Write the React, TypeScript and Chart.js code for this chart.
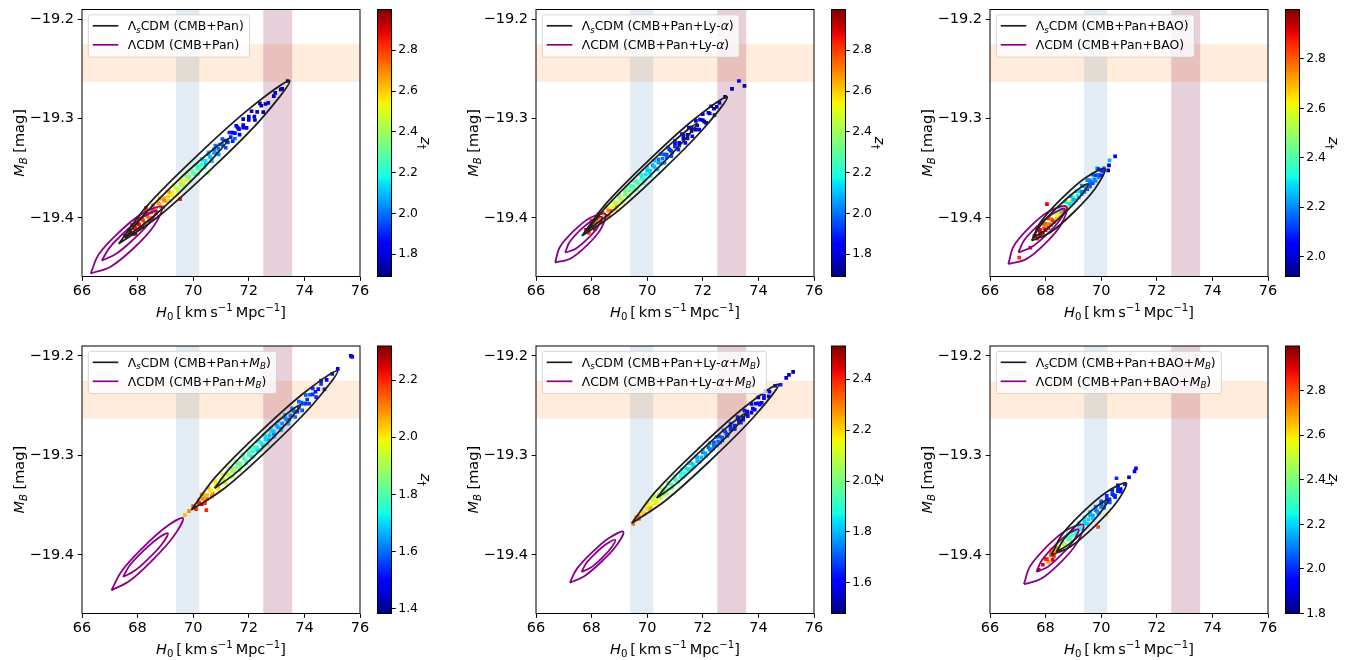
import React, { useEffect, useRef } from 'react';
import { Chart, registerables } from 'chart.js';
Chart.register(...registerables);

const FONT = "'DejaVu Sans', sans-serif";

// ---------- axes ----------
const xMin = 66, xMax = 76;
const yMin = -19.459, yMax = -19.19;
const xTicks = [66, 68, 70, 72, 74, 76];
const yTicks = [-19.4, -19.3, -19.2];

// ---------- reference bands ----------
const trgbBand = [69.38, 70.22];
const shoesBand = [72.52, 73.56];
const mbBand = [-19.263, -19.225];

// ---------- colour bars ----------
const cbRanges = [[1.69, 3.0], [1.69, 3.0], [1.92, 3.0], [1.384, 2.319], [1.48, 2.53], [1.8, 3.0]];
const cbTicks = [
  [1.8, 2.0, 2.2, 2.4, 2.6, 2.8],
  [1.8, 2.0, 2.2, 2.4, 2.6, 2.8],
  [2.0, 2.2, 2.4, 2.6, 2.8],
  [1.4, 1.6, 1.8, 2.0, 2.2],
  [1.6, 1.8, 2.0, 2.2, 2.4],
  [1.8, 2.0, 2.2, 2.4, 2.6, 2.8],
];
const cbLabel = '{z}_{\u2020}';

// ---------- legend labels ----------
const lsLabels = [
  '\u039b_[s]CDM (CMB+Pan)',
  '\u039b_[s]CDM (CMB+Pan+Ly-{\u03b1})',
  '\u039b_[s]CDM (CMB+Pan+BAO)',
  '\u039b_[s]CDM (CMB+Pan+{M}_[B])',
  '\u039b_[s]CDM (CMB+Pan+Ly-{\u03b1}+{M}_[B])',
  '\u039b_[s]CDM (CMB+Pan+BAO+{M}_[B])',
];
const lLabels = [
  '\u039bCDM (CMB+Pan)',
  '\u039bCDM (CMB+Pan+Ly-{\u03b1})',
  '\u039bCDM (CMB+Pan+BAO)',
  '\u039bCDM (CMB+Pan+{M}_[B])',
  '\u039bCDM (CMB+Pan+Ly-{\u03b1}+{M}_[B])',
  '\u039bCDM (CMB+Pan+BAO+{M}_[B])',
];
const xTitle = '{H}_{0}\u2009[\u2009km\u2009s^{\u22121}\u2009Mpc^{\u22121}]';
const yTitle = '{M}_[B] [mag]';

// ---------- contours [H0, MB] ----------
const p1LsOuter = [[67.32,-19.426],[68.354,-19.3874],[70.15,-19.337],[72.044,-19.2894],[73.47,-19.262],[72.436,-19.3006],[70.64,-19.351],[68.746,-19.3986],[67.32,-19.426]];
const p1LsInner = [[67.55,-19.42],[68.209,-19.3974],[69.3045,-19.3661],[70.439,-19.3374],[71.28,-19.32],[70.621,-19.3426],[69.5255,-19.3739],[68.391,-19.4026],[67.55,-19.42]];
const p1LOuter = [[66.31,-19.456],[66.61,-19.4364],[67.335,-19.4143],[68.15,-19.3959],[68.87,-19.389],[68.57,-19.4086],[67.845,-19.4308],[67.03,-19.4491],[66.31,-19.456]];
const p1LInner = [[66.71,-19.443],[66.999,-19.4296],[67.56,-19.4137],[68.184,-19.3994],[68.69,-19.3926],[68.401,-19.4059],[67.84,-19.4219],[67.216,-19.4364],[66.71,-19.443]];

const p2LsOuter = [[67.65,-19.418],[68.533,-19.3851],[70.062,-19.3418],[71.668,-19.3011],[72.88,-19.278],[71.997,-19.3109],[70.468,-19.3542],[68.862,-19.3949],[67.65,-19.418]];
const p2LsInner = [[67.83,-19.413],[68.529,-19.3887],[69.693,-19.3556],[70.909,-19.3239],[71.79,-19.305],[71.091,-19.3293],[69.927,-19.3624],[68.711,-19.3941],[67.83,-19.413]];
const p2LOuter = [[66.69,-19.445],[66.855,-19.4295],[67.35,-19.4133],[67.935,-19.4001],[68.49,-19.396],[68.325,-19.4115],[67.83,-19.4277],[67.245,-19.4409],[66.69,-19.445]];
const p2LInner = [[67.05,-19.435],[67.203,-19.4246],[67.57,-19.4128],[67.995,-19.403],[68.37,-19.399],[68.217,-19.4094],[67.85,-19.4212],[67.425,-19.4311],[67.05,-19.435]];

const p3LsOuter = [[67.50,-19.423],[67.849,-19.4032],[68.59,-19.3801],[69.425,-19.3597],[70.13,-19.3505],[69.783,-19.3703],[69.04,-19.3935],[68.205,-19.4138],[67.50,-19.423]];
const p3LsInner = [[67.55,-19.4196],[67.856,-19.4061],[68.4275,-19.3892],[69.044,-19.3738],[69.53,-19.3657],[69.224,-19.3792],[68.6525,-19.396],[68.036,-19.4115],[67.55,-19.4196]];
const p3LOuter = [[66.66,-19.4465],[66.856,-19.4283],[67.4275,-19.4093],[68.11,-19.3936],[68.75,-19.3886],[68.554,-19.4068],[67.9825,-19.4258],[67.30,-19.4415],[66.66,-19.4465]];
const p3LInner = [[67.02,-19.4348],[67.229,-19.4224],[67.70,-19.4083],[68.231,-19.3962],[68.69,-19.391],[68.481,-19.4034],[68.01,-19.4175],[67.479,-19.4296],[67.02,-19.4348]];

const p4LsOuter = [[69.93,-19.355],[70.803,-19.3217],[72.336,-19.2783],[73.959,-19.2377],[75.19,-19.215],[74.317,-19.2483],[72.784,-19.2917],[71.161,-19.3323],[69.93,-19.355]];
const p4LsInner = [[70.77,-19.333],[71.299,-19.3135],[72.2075,-19.2875],[73.159,-19.2629],[73.87,-19.2488],[73.341,-19.2683],[72.4325,-19.2943],[71.481,-19.3189],[70.77,-19.333]];
const p4LOuter = [[67.06,-19.4357],[67.419,-19.4167],[68.153,-19.3938],[68.961,-19.3732],[69.63,-19.3632],[69.271,-19.3823],[68.537,-19.4052],[67.729,-19.4258],[67.06,-19.4357]];
const p4LInner = [[67.48,-19.4222],[67.712,-19.4107],[68.1725,-19.3969],[68.678,-19.3845],[69.09,-19.3784],[68.858,-19.3899],[68.3975,-19.4037],[67.892,-19.4161],[67.48,-19.4222]];

const p5LsOuter = [[69.44,-19.3683],[70.329,-19.3355],[71.873,-19.2923],[73.497,-19.2516],[74.72,-19.2286],[73.831,-19.2614],[72.287,-19.3047],[70.663,-19.3453],[69.44,-19.3683]];
const p5LsInner = [[70.34,-19.343],[70.911,-19.3235],[71.864,-19.2972],[72.855,-19.2721],[73.58,-19.2572],[73.009,-19.2767],[72.056,-19.303],[71.065,-19.3281],[70.34,-19.343]];
const p5LOuter = [[67.22,-19.4279],[67.473,-19.4139],[68.017,-19.3976],[68.625,-19.3832],[69.14,-19.3768],[68.887,-19.3908],[68.343,-19.4072],[67.735,-19.4215],[67.22,-19.4279]];
const p5LInner = [[67.64,-19.4172],[67.805,-19.4085],[68.149,-19.3982],[68.531,-19.3891],[68.85,-19.385],[68.685,-19.3937],[68.341,-19.404],[67.959,-19.4131],[67.64,-19.4172]];

const p6LsOuter = [[68.21,-19.4003],[68.569,-19.3805],[69.33,-19.3574],[70.183,-19.3371],[70.90,-19.3279],[70.541,-19.3477],[69.78,-19.3708],[68.927,-19.3911],[68.21,-19.4003]];
const p6LsInner = [[68.39,-19.397],[68.670,-19.3838],[69.2025,-19.3675],[69.780,-19.3525],[70.24,-19.3447],[69.960,-19.3579],[69.4275,-19.3743],[68.850,-19.3892],[68.39,-19.397]];
const p6LOuter = [[67.22,-19.4296],[67.439,-19.4116],[68.0255,-19.3922],[68.717,-19.3757],[69.35,-19.37],[69.131,-19.388],[68.5445,-19.4075],[67.853,-19.4239],[67.22,-19.4296]];
const p6LInner = [[67.67,-19.4172],[67.863,-19.4054],[68.291,-19.3917],[68.775,-19.3797],[69.19,-19.3743],[68.997,-19.3861],[68.569,-19.3999],[68.085,-19.4119],[67.67,-19.4172]];

// ---------- MCMC samples [H0, MB, z_dagger] ----------
const p1Pts = [
  [67.55,-19.418,2.95],[67.7,-19.412,2.9],[67.8,-19.416,2.98],[67.9,-19.409,2.85],[68.0,-19.405,2.92],[68.05,-19.411,2.8],[68.15,-19.401,2.88],[68.25,-19.405,2.75],[68.35,-19.396,2.82],[68.45,-19.400,2.7],
  [68.55,-19.391,2.78],[68.65,-19.394,2.72],[68.75,-19.385,2.68],[68.85,-19.389,2.75],[68.95,-19.380,2.65],[69.05,-19.383,2.6],[69.15,-19.374,2.7],[69.25,-19.377,2.55],[69.35,-19.369,2.5],[69.45,-19.372,2.45],
  [69.55,-19.363,2.55],[69.65,-19.367,2.4],[69.75,-19.358,2.35],[69.85,-19.361,2.45],[69.95,-19.352,2.3],[70.05,-19.356,2.25],[70.15,-19.347,2.2],[70.25,-19.351,2.3],[70.35,-19.342,2.15],[70.45,-19.346,2.1],
  [70.55,-19.336,2.05],[70.65,-19.340,2.2],[70.75,-19.331,2.0],[70.85,-19.335,1.95],[70.95,-19.326,2.05],[71.1,-19.322,1.9],[71.25,-19.324,1.95],[71.4,-19.314,1.85],[71.6,-19.309,1.8],[71.8,-19.309,1.85],
  [72.0,-19.298,1.78],[72.2,-19.298,1.8],[72.45,-19.287,1.75],[72.7,-19.284,1.8],[72.95,-19.274,1.75],[73.2,-19.270,1.78],[73.4,-19.262,1.72],
  [68.3,-19.390,2.9],[69.53,-19.381,2.85],[70.53,-19.355,2.4],[71.5,-19.320,2.0],
  [67.6,-19.4185,2.9],[67.75,-19.4145,2.95],[67.9,-19.4105,2.85],[68.05,-19.4065,2.9],[68.2,-19.4025,2.8],[68.35,-19.3985,2.75],[68.5,-19.3945,2.8],[68.65,-19.3905,2.7],[68.8,-19.3865,2.65],[68.95,-19.3825,2.7],
  [69.1,-19.3785,2.6],[69.25,-19.3745,2.5],[69.4,-19.3705,2.45],[69.55,-19.3665,2.4],[69.7,-19.3625,2.5],[69.85,-19.3585,2.35],[70.0,-19.3545,2.3],[70.15,-19.3505,2.25],[70.3,-19.3465,2.2],[70.45,-19.3425,2.15],
  [70.6,-19.3385,2.1],[70.75,-19.3345,2.05],[70.9,-19.3305,2.0],[71.05,-19.3265,1.95],[71.2,-19.3225,1.9],[71.35,-19.3185,1.9],[71.5,-19.3145,1.85],[71.65,-19.3105,1.82],[71.8,-19.3065,1.8],[72.0,-19.3012,1.8],
  [72.3,-19.2932,1.78],[72.6,-19.2852,1.75],[72.9,-19.2772,1.75],[73.15,-19.2705,1.72],
];
const p1Extra = [
  [67.8,-19.4072,2.9],[68.05,-19.4005,2.85],[68.3,-19.3939,2.8],[68.55,-19.3872,2.75],[68.8,-19.3805,2.7],[69.05,-19.3739,2.6],[69.3,-19.3672,2.5],[69.55,-19.3605,2.45],[69.8,-19.3539,2.35],[70.05,-19.3472,2.3],
  [70.3,-19.3405,2.2],[70.55,-19.3339,2.1],[70.8,-19.3272,2.0],[71.05,-19.3205,1.95],[71.3,-19.3139,1.9],[71.55,-19.3072,1.85],[71.8,-19.3005,1.8],[72.1,-19.2925,1.78],[72.4,-19.2846,1.75],
  [67.92,-19.416,2.95],[68.17,-19.4093,2.9],[68.42,-19.4027,2.85],[68.67,-19.396,2.7],[68.92,-19.3893,2.75],[69.17,-19.3827,2.6],[69.42,-19.376,2.55],[69.67,-19.3693,2.45],[69.92,-19.3627,2.4],[70.17,-19.356,2.25],
  [70.42,-19.3493,2.2],[70.67,-19.3427,2.1],[70.92,-19.336,2.05],[71.17,-19.3293,1.95],[71.42,-19.3227,1.9],[71.67,-19.316,1.85],[71.92,-19.3093,1.82],[72.22,-19.3013,1.8],[72.52,-19.2934,1.76],
];
const p2Pts = [
  [67.8,-19.412,2.9],[67.9,-19.415,2.8],[68.0,-19.406,2.95],[68.1,-19.409,2.7],[68.2,-19.401,2.85],[68.3,-19.404,2.6],[68.4,-19.395,2.75],[68.5,-19.398,2.9],[68.6,-19.390,2.5],[68.7,-19.393,2.8],
  [68.8,-19.384,2.4],[68.9,-19.388,2.65],[69.0,-19.379,2.35],[69.1,-19.382,2.5],[69.2,-19.373,2.3],[69.3,-19.377,2.4],[69.4,-19.368,2.25],[69.5,-19.372,2.35],[69.6,-19.363,2.2],[69.7,-19.366,2.3],
  [69.8,-19.357,2.15],[69.9,-19.361,2.2],[70.0,-19.352,2.1],[70.1,-19.355,2.15],[70.2,-19.347,2.05],[70.3,-19.350,2.1],[70.4,-19.341,2.0],[70.5,-19.345,2.05],[70.6,-19.336,1.95],[70.7,-19.339,2.0],
  [70.8,-19.331,1.9],[70.9,-19.334,1.95],[71.0,-19.325,1.85],[71.15,-19.327,1.9],[71.3,-19.317,1.85],[71.45,-19.320,1.8],[71.6,-19.309,1.85],[71.75,-19.311,1.78],[71.9,-19.301,1.8],[72.05,-19.303,1.75],
  [72.2,-19.294,1.8],[72.4,-19.290,1.75],[72.6,-19.284,1.78],[72.8,-19.278,1.72],[73.05,-19.270,1.75],[73.3,-19.262,1.8],[73.5,-19.267,1.72],
  [67.85,-19.4126,2.85],[68.0,-19.4086,2.8],[68.15,-19.4046,2.75],[68.3,-19.4006,2.7],[68.45,-19.3966,2.6],[68.6,-19.3926,2.7],[68.75,-19.3886,2.5],[68.9,-19.3845,2.45],[69.05,-19.3805,2.4],[69.2,-19.3765,2.35],
  [69.35,-19.3725,2.3],[69.5,-19.3685,2.25],[69.65,-19.3645,2.25],[69.8,-19.3604,2.2],[69.95,-19.3564,2.15],[70.1,-19.3524,2.1],[70.25,-19.3484,2.1],[70.4,-19.3444,2.05],[70.55,-19.3404,2.0],[70.7,-19.3363,1.95],
  [70.85,-19.3323,1.9],[71.0,-19.3283,1.9],[71.15,-19.3243,1.85],[71.3,-19.3203,1.85],[71.45,-19.3163,1.8],[71.6,-19.3123,1.8],[71.8,-19.3069,1.78],[72.0,-19.3015,1.78],[72.25,-19.2948,1.75],[72.5,-19.2881,1.75],
];
const p2Extra = [
  [68.0,-19.4026,2.85],[68.25,-19.3959,2.7],[68.5,-19.3892,2.6],[68.75,-19.3826,2.5],[69.0,-19.3759,2.4],[69.25,-19.3692,2.35],[69.5,-19.3625,2.3],[69.75,-19.3558,2.2],[70.0,-19.3491,2.15],[70.25,-19.3424,2.1],
  [70.5,-19.3357,2.0],[70.75,-19.329,1.95],[71.0,-19.3223,1.9],[71.25,-19.3156,1.85],[71.5,-19.3089,1.82],[71.75,-19.3022,1.8],[72.0,-19.2955,1.78],[72.3,-19.2875,1.75],
  [68.12,-19.4114,2.9],[68.37,-19.4047,2.8],[68.62,-19.398,2.75],[68.87,-19.3914,2.6],[69.12,-19.3847,2.5],[69.37,-19.378,2.4],[69.62,-19.3713,2.3],[69.87,-19.3646,2.25],[70.12,-19.3579,2.2],[70.37,-19.3512,2.1],
  [70.62,-19.3445,2.05],[70.87,-19.3378,1.95],[71.12,-19.3311,1.9],[71.37,-19.3244,1.85],[71.62,-19.3177,1.82],[71.87,-19.311,1.8],[72.12,-19.3043,1.78],[72.42,-19.2963,1.75],
];
const p3Pts = [
  [67.6,-19.418,2.95],[67.7,-19.421,2.85],[67.8,-19.412,2.9],[67.9,-19.415,2.98],[68.0,-19.406,2.8],[68.1,-19.410,2.9],[68.2,-19.401,2.7],[68.3,-19.404,2.85],[68.4,-19.395,2.3],[68.5,-19.399,2.75],
  [68.6,-19.390,2.4],[68.7,-19.393,2.2],[68.8,-19.384,2.6],[68.9,-19.387,2.3],[69.0,-19.379,2.4],[69.1,-19.382,2.25],[69.2,-19.373,2.3],[69.3,-19.376,2.2],[69.4,-19.368,2.25],[69.5,-19.371,2.15],
  [69.6,-19.362,2.2],[69.7,-19.365,2.15],[69.8,-19.357,2.1],[69.9,-19.359,2.2],[70.0,-19.352,2.1],[70.1,-19.350,2.15],
  [68.15,-19.406,2.4],[68.45,-19.396,2.6],[68.65,-19.393,2.85],[68.95,-19.383,2.7],
  [70.3,-19.342,2.25],[70.5,-19.338,2.05],[70.25,-19.352,1.98],[70.28,-19.347,2.0],[69.85,-19.350,2.25],
  [68.05,-19.386,2.9],[67.05,-19.440,2.85],[67.45,-19.430,2.9],
  [67.65,-19.4189,2.9],[67.8,-19.4147,2.95],[67.95,-19.4106,2.85],[68.1,-19.4065,2.75],[68.25,-19.4023,2.85],[68.4,-19.3982,2.6],[68.55,-19.3941,2.35],[68.7,-19.3899,2.7],[68.85,-19.3858,2.3],[69.0,-19.3816,2.25],
  [69.15,-19.3775,2.35],[69.3,-19.3734,2.2],[69.45,-19.3692,2.25],[69.6,-19.3651,2.15],[69.75,-19.3610,2.2],[69.9,-19.3568,2.15],[70.05,-19.3527,2.1],
];
const p3Extra = [
  [67.7,-19.4115,2.9],[67.9,-19.406,2.8],[68.1,-19.4005,2.85],[68.3,-19.395,2.6],[68.5,-19.3894,2.4],[68.7,-19.3839,2.3],[68.9,-19.3784,2.25],[69.1,-19.3729,2.3],[69.3,-19.3674,2.2],[69.5,-19.3619,2.2],
  [69.7,-19.3563,2.15],[69.9,-19.3508,2.1],
  [67.8,-19.4179,2.95],[68.0,-19.4124,2.9],[68.2,-19.4069,2.8],[68.4,-19.4014,2.7],[68.6,-19.3959,2.75],[68.8,-19.3903,2.5],[69.0,-19.3848,2.3],[69.2,-19.3793,2.25],
  [69.4,-19.3738,2.2],[69.6,-19.3683,2.15],[69.8,-19.3628,2.2],[70.0,-19.3572,2.1],
];
const p4Pts = [
  [69.7,-19.360,2.05],[69.85,-19.356,2.1],[70.0,-19.351,2.15],[70.1,-19.354,2.2],[70.2,-19.345,2.1],[70.3,-19.349,2.25],[70.4,-19.340,2.05],[70.5,-19.344,2.15],[70.6,-19.335,2.0],[70.7,-19.338,2.1],
  [70.8,-19.329,1.95],[70.9,-19.333,2.05],[71.0,-19.324,1.95],[71.1,-19.327,2.0],[71.2,-19.318,1.9],[71.3,-19.322,1.95],[71.4,-19.313,1.85],[71.5,-19.316,1.9],[71.6,-19.308,1.8],[71.7,-19.311,1.85],
  [71.8,-19.302,1.8],[71.9,-19.306,1.75],[72.0,-19.297,1.8],[72.1,-19.301,1.7],[72.2,-19.292,1.75],[72.3,-19.295,1.7],[72.4,-19.286,1.75],[72.5,-19.290,1.68],[72.6,-19.281,1.7],[72.7,-19.284,1.65],
  [72.8,-19.276,1.7],[72.9,-19.279,1.62],[73.0,-19.270,1.65],[73.15,-19.273,1.6],[73.3,-19.262,1.62],[73.45,-19.264,1.58],[73.6,-19.255,1.6],[73.75,-19.256,1.55],[73.9,-19.247,1.6],[74.05,-19.248,1.55],
  [74.2,-19.239,1.58],[74.4,-19.236,1.52],[74.6,-19.228,1.55],[74.8,-19.224,1.5],[75.0,-19.218,1.52],[75.2,-19.213,1.48],[75.67,-19.200,1.45],[75.72,-19.201,1.5],[70.47,-19.355,2.2],
  [70.05,-19.3518,2.15],[70.2,-19.3478,2.2],[70.35,-19.3438,2.1],[70.5,-19.3398,2.05],[70.65,-19.3358,2.0],[70.8,-19.3318,2.0],[70.95,-19.3278,1.95],[71.1,-19.3239,1.9],[71.25,-19.3199,1.92],[71.4,-19.3159,1.88],
  [71.55,-19.3119,1.85],[71.7,-19.3079,1.82],[71.85,-19.3039,1.8],[72.0,-19.2999,1.78],[72.15,-19.2959,1.75],[72.3,-19.2919,1.75],[72.45,-19.2879,1.72],[72.6,-19.2839,1.7],[72.75,-19.2799,1.68],[72.9,-19.2759,1.68],
  [73.05,-19.2719,1.65],[73.2,-19.2680,1.63],[73.35,-19.2640,1.62],[73.5,-19.2600,1.6],[73.65,-19.2560,1.6],[73.8,-19.2520,1.58],[73.95,-19.2480,1.57],[74.1,-19.2440,1.55],[74.3,-19.2387,1.55],[74.5,-19.2333,1.52],
];
const p4Extra = [
  [70.3,-19.3392,2.1],[70.55,-19.3325,2.05],[70.8,-19.3258,2.0],[71.05,-19.3192,1.95],[71.3,-19.3125,1.9],[71.55,-19.3059,1.85],[71.8,-19.2992,1.8],[72.05,-19.2926,1.78],[72.3,-19.2859,1.75],[72.55,-19.2793,1.72],
  [72.8,-19.2726,1.7],[73.05,-19.2659,1.68],[73.3,-19.2593,1.65],[73.55,-19.2526,1.62],[73.8,-19.246,1.6],[74.05,-19.2393,1.58],[74.3,-19.2327,1.55],[74.6,-19.2247,1.52],
  [70.42,-19.348,2.2],[70.67,-19.3413,2.1],[70.92,-19.3346,2.0],[71.17,-19.328,1.95],[71.42,-19.3213,1.9],[71.67,-19.3147,1.85],[71.92,-19.308,1.82],[72.17,-19.3014,1.8],[72.42,-19.2947,1.75],[72.67,-19.2881,1.72],
  [72.92,-19.2814,1.7],[73.17,-19.2747,1.68],[73.42,-19.2681,1.65],[73.67,-19.2614,1.6],[73.92,-19.2548,1.58],[74.17,-19.2481,1.56],[74.42,-19.2415,1.55],[74.72,-19.2335,1.52],
];
const p5Pts = [
  [69.5,-19.369,2.3],[69.6,-19.362,2.25],[69.7,-19.364,2.35],[69.8,-19.356,2.2],[69.9,-19.359,2.3],[70.0,-19.350,2.15],[70.1,-19.354,2.25],[70.2,-19.345,2.1],[70.3,-19.348,2.2],[70.4,-19.340,2.05],
  [70.5,-19.343,2.1],[70.6,-19.334,2.0],[70.7,-19.338,2.05],[70.8,-19.329,1.95],[70.9,-19.332,2.0],[71.0,-19.324,1.9],[71.1,-19.327,1.95],[71.2,-19.318,1.88],[71.3,-19.322,1.9],[71.4,-19.313,1.85],
  [71.5,-19.316,1.88],[71.6,-19.308,1.8],[71.7,-19.311,1.85],[71.8,-19.302,1.78],[71.9,-19.306,1.82],[72.0,-19.297,1.75],[72.1,-19.300,1.8],[72.2,-19.292,1.72],[72.3,-19.295,1.78],[72.4,-19.287,1.7],
  [72.5,-19.290,1.75],[72.6,-19.281,1.68],[72.7,-19.285,1.7],[72.8,-19.276,1.65],[72.9,-19.279,1.68],[73.0,-19.271,1.65],[73.15,-19.273,1.6],[73.3,-19.264,1.62],[73.45,-19.264,1.6],[73.6,-19.256,1.62],
  [73.75,-19.257,1.58],[73.9,-19.248,1.6],[74.05,-19.249,1.6],[74.2,-19.240,1.62],[74.4,-19.236,1.58],[74.6,-19.230,1.6],[74.8,-19.229,1.65],[75.0,-19.222,1.55],[75.1,-19.219,1.55],[75.25,-19.216,1.52],
  [69.55,-19.3654,2.25],[69.7,-19.3614,2.3],[69.85,-19.3575,2.2],[70.0,-19.3535,2.2],[70.15,-19.3495,2.15],[70.3,-19.3455,2.1],[70.45,-19.3416,2.05],[70.6,-19.3376,2.0],[70.75,-19.3336,1.97],[70.9,-19.3297,1.95],
  [71.05,-19.3257,1.92],[71.2,-19.3217,1.9],[71.35,-19.3178,1.88],[71.5,-19.3138,1.85],[71.65,-19.3098,1.83],[71.8,-19.3058,1.8],[71.95,-19.3019,1.8],[72.1,-19.2979,1.78],[72.25,-19.2939,1.75],[72.4,-19.2900,1.73],
  [72.55,-19.2860,1.72],[72.7,-19.2820,1.7],[72.85,-19.2781,1.68],[73.0,-19.2741,1.66],[73.15,-19.2701,1.65],[73.3,-19.2662,1.63],[73.45,-19.2622,1.62],[73.6,-19.2582,1.62],[73.8,-19.2529,1.6],[74.0,-19.2476,1.6],
  [74.2,-19.2424,1.6],
];
const p5Extra = [
  [70.0,-19.3475,2.2],[70.25,-19.3409,2.1],[70.5,-19.3342,2.05],[70.75,-19.3276,1.98],[71.0,-19.321,1.95],[71.25,-19.3144,1.9],[71.5,-19.3078,1.85],[71.75,-19.3012,1.82],[72.0,-19.2946,1.8],[72.25,-19.2879,1.76],
  [72.5,-19.2813,1.73],[72.75,-19.2747,1.7],[73.0,-19.2681,1.68],[73.25,-19.2615,1.65],[73.5,-19.2549,1.63],[73.75,-19.2483,1.62],[74.0,-19.2416,1.6],[74.25,-19.235,1.6],
  [70.12,-19.3531,2.25],[70.37,-19.3465,2.15],[70.62,-19.3398,2.05],[70.87,-19.3332,2.0],[71.12,-19.3266,1.95],[71.37,-19.32,1.9],[71.62,-19.3134,1.86],[71.87,-19.3068,1.82],[72.12,-19.3002,1.8],[72.37,-19.2935,1.76],
  [72.62,-19.2869,1.73],[72.87,-19.2803,1.7],[73.12,-19.2737,1.68],[73.37,-19.2671,1.65],[73.62,-19.2605,1.63],[73.87,-19.2539,1.62],[74.12,-19.2472,1.6],[74.37,-19.2406,1.6],
];
const p6Pts = [
  [67.9,-19.410,2.9],[68.0,-19.404,2.85],[68.1,-19.407,2.7],[68.2,-19.398,2.8],[68.3,-19.401,2.6],[68.4,-19.393,2.75],[68.5,-19.396,2.5],[68.6,-19.387,2.35],[68.7,-19.390,2.6],[68.8,-19.382,2.3],
  [68.9,-19.385,2.4],[69.0,-19.376,2.25],[69.1,-19.379,2.35],[69.2,-19.371,2.2],[69.3,-19.374,2.3],[69.4,-19.366,2.2],[69.5,-19.369,2.25],[69.6,-19.360,2.15],[69.7,-19.363,2.2],[69.8,-19.355,2.1],
  [69.9,-19.358,2.15],[70.0,-19.349,2.05],[70.1,-19.352,2.1],[70.2,-19.344,2.0],[70.3,-19.347,2.05],[70.4,-19.339,2.0],[70.5,-19.341,1.95],[70.6,-19.333,2.0],[70.7,-19.334,1.95],[70.85,-19.329,2.0],
  [71.0,-19.322,1.9],[71.2,-19.316,1.95],[67.75,-19.415,2.95],[68.25,-19.405,2.9],[69.89,-19.372,2.8],[70.55,-19.323,2.0],[71.25,-19.313,1.95],[70.2,-19.360,2.6],
  [68.05,-19.4046,2.85],[68.2,-19.4006,2.8],[68.35,-19.3965,2.7],[68.5,-19.3925,2.55],[68.65,-19.3885,2.4],[68.8,-19.3844,2.35],[68.95,-19.3804,2.3],[69.1,-19.3763,2.25],[69.25,-19.3723,2.3],[69.4,-19.3683,2.2],
  [69.55,-19.3642,2.2],[69.7,-19.3602,2.15],[69.85,-19.3562,2.1],[70.0,-19.3521,2.1],[70.15,-19.3481,2.05],[70.3,-19.3441,2.0],[70.45,-19.3400,2.0],[70.6,-19.3360,1.98],
];
const p6Extra = [
  [68.2,-19.3946,2.7],[68.4,-19.3892,2.5],[68.6,-19.3838,2.35],[68.8,-19.3784,2.3],[69.0,-19.373,2.25],[69.2,-19.3677,2.3],[69.4,-19.3623,2.2],[69.6,-19.3569,2.15],[69.8,-19.3515,2.1],[70.0,-19.3461,2.05],
  [70.2,-19.3408,2.0],[70.4,-19.3354,2.0],[70.6,-19.33,1.95],
  [68.3,-19.4012,2.85],[68.5,-19.3958,2.75],[68.7,-19.3904,2.5],[68.9,-19.385,2.35],[69.1,-19.3797,2.3],[69.3,-19.3743,2.25],[69.5,-19.3689,2.2],[69.7,-19.3635,2.2],[69.9,-19.3581,2.15],[70.1,-19.3527,2.1],
  [70.3,-19.3474,2.05],[70.5,-19.342,2.0],[70.7,-19.3366,1.98],
];

const scatterSets = [
  [...p1Pts, ...p1Extra],
  [...p2Pts, ...p2Extra],
  [...p3Pts, ...p3Extra],
  [...p4Pts, ...p4Extra],
  [...p5Pts, ...p5Extra],
  [...p6Pts, ...p6Extra],
];
const lsOuterSets = [p1LsOuter, p2LsOuter, p3LsOuter, p4LsOuter, p5LsOuter, p6LsOuter];
const lsInnerSets = [p1LsInner, p2LsInner, p3LsInner, p4LsInner, p5LsInner, p6LsInner];
const lOuterSets = [p1LOuter, p2LOuter, p3LOuter, p4LOuter, p5LOuter, p6LOuter];
const lInnerSets = [p1LInner, p2LInner, p3LInner, p4LInner, p5LInner, p6LInner];

// ---------- styles & layout ----------
const BLACK = '#202020';
const PURPLE = '#8b008b';
const ORANGE_BAND = 'rgba(255,127,14,0.15)';
const BLUE_BAND = 'rgba(70,130,180,0.15)';
const RED_BAND = 'rgba(140,20,70,0.2)';
const PLOT_W = 278;
const TICK_SIZE = 14.5;
const SMALL_SIZE = 12.4;
const panelLeft = [82, 536, 990, 82, 536, 990];
const rows = [
  { top: 1, padTop: 8.5, plotH: 267 },
  { top: 338, padTop: 8, plotH: 267.5 },
];
const X_AXIS_H = 50.5;
const RIGHT_PAD = 12;

function jet(t: number): string {
  const c = Math.max(0, Math.min(1, t));
  const lerp = (pts: number[][]) => {
    for (let i = 1; i < pts.length; i++) {
      if (c <= pts[i][0]) {
        const [x0, y0] = pts[i - 1];
        const [x1, y1] = pts[i];
        return y0 + ((y1 - y0) * (c - x0)) / (x1 - x0);
      }
    }
    return pts[pts.length - 1][1];
  };
  const r = lerp([[0, 0], [0.35, 0], [0.66, 1], [0.89, 1], [1, 0.5]]);
  const g = lerp([[0, 0], [0.125, 0], [0.375, 1], [0.64, 1], [0.91, 0], [1, 0]]);
  const b = lerp([[0, 0.5], [0.11, 1], [0.34, 1], [0.65, 0], [1, 0]]);
  return `rgb(${Math.round(r * 255)},${Math.round(g * 255)},${Math.round(b * 255)})`;
}

type Seg = { t: string; it?: boolean; sub?: boolean; sup?: boolean };
function parseRich(s: string): Seg[] {
  const out: Seg[] = [];
  let i = 0;
  let buf = '';
  const flush = () => { if (buf) { out.push({ t: buf }); buf = ''; } };
  while (i < s.length) {
    const ch = s[i];
    if (ch === '_' && s[i + 1] === '{') {
      flush(); const j = s.indexOf('}', i); out.push({ t: s.slice(i + 2, j), sub: true }); i = j + 1;
    } else if (ch === '_' && s[i + 1] === '[') {
      flush(); const j = s.indexOf(']', i); out.push({ t: s.slice(i + 2, j), sub: true, it: true }); i = j + 1;
    } else if (ch === '^' && s[i + 1] === '{') {
      flush(); const j = s.indexOf('}', i); out.push({ t: s.slice(i + 2, j), sup: true }); i = j + 1;
    } else if (ch === '{') {
      flush(); const j = s.indexOf('}', i); out.push({ t: s.slice(i + 1, j), it: true }); i = j + 1;
    } else { buf += ch; i++; }
  }
  flush();
  return out;
}
function segFont(g: Seg, size: number) {
  const s = g.sub || g.sup ? size * 0.7 : size;
  return `${g.it ? 'italic ' : ''}${s}px ${FONT}`;
}
function measureRich(ctx: CanvasRenderingContext2D, segs: Seg[], size: number) {
  let w = 0;
  for (const g of segs) { ctx.font = segFont(g, size); w += ctx.measureText(g.t).width; }
  return w;
}
function drawRich(ctx: CanvasRenderingContext2D, segs: Seg[], x: number, y: number, size: number, align: string) {
  const w = measureRich(ctx, segs, size);
  let cx = align === 'center' ? x - w / 2 : x;
  ctx.textAlign = 'left';
  ctx.textBaseline = 'alphabetic';
  ctx.fillStyle = '#000';
  for (const g of segs) {
    ctx.font = segFont(g, size);
    const dy = g.sub ? size * 0.22 : g.sup ? -size * 0.4 : 0;
    ctx.fillText(g.t, cx, y + dy);
    cx += ctx.measureText(g.t).width;
  }
}

const bandsPlugin = {
  id: 'bands',
  beforeDatasetsDraw(chart: any) {
    const { ctx, chartArea: a, scales } = chart;
    const x = scales.x, y = scales.y;
    ctx.save();
    ctx.beginPath();
    ctx.rect(a.left, a.top, a.right - a.left, a.bottom - a.top);
    ctx.clip();
    const yt = y.getPixelForValue(mbBand[1]);
    const yb = y.getPixelForValue(mbBand[0]);
    ctx.fillStyle = ORANGE_BAND;
    ctx.fillRect(a.left, yt, a.right - a.left, yb - yt);
    const vband = (b: number[], color: string) => {
      const x0 = x.getPixelForValue(b[0]);
      const x1 = x.getPixelForValue(b[1]);
      ctx.fillStyle = color;
      ctx.fillRect(x0, a.top, x1 - x0, a.bottom - a.top);
    };
    vband(trgbBand, BLUE_BAND);
    vband(shoesBand, RED_BAND);
    ctx.restore();
  },
};

function makeDecor(i: number) {
  return {
    id: 'decor' + i,
    afterDraw(chart: any) {
      const { ctx, chartArea: a } = chart;
      ctx.save();
      ctx.strokeStyle = '#000';
      ctx.lineWidth = 1;
      ctx.strokeRect(a.left, a.top, a.right - a.left, a.bottom - a.top);
      const s1 = parseRich(lsLabels[i]);
      const s2 = parseRich(lLabels[i]);
      const w = Math.max(measureRich(ctx, s1, SMALL_SIZE), measureRich(ctx, s2, SMALL_SIZE));
      const bx = a.left + 6.3, by = a.top + 5.3, bw = 39.4 + w + 5.7, bh = 42.3;
      ctx.beginPath();
      if ((ctx as any).roundRect) (ctx as any).roundRect(bx, by, bw, bh, 2.5); else ctx.rect(bx, by, bw, bh);
      ctx.fillStyle = 'rgba(255,255,255,0.8)';
      ctx.fill();
      ctx.strokeStyle = 'rgba(204,204,204,0.8)';
      ctx.lineWidth = 1;
      ctx.stroke();
      const rowsY = [a.top + 16.3, a.top + 35.3];
      const cols = [BLACK, PURPLE];
      [s1, s2].forEach((segs, k) => {
        ctx.strokeStyle = cols[k];
        ctx.lineWidth = 1.7;
        ctx.beginPath();
        ctx.moveTo(a.left + 10.7, rowsY[k]);
        ctx.lineTo(a.left + 36.3, rowsY[k]);
        ctx.stroke();
        drawRich(ctx, segs, a.left + 45.7, rowsY[k] + 0.36 * SMALL_SIZE, SMALL_SIZE, 'left');
      });
      drawRich(ctx, parseRich(xTitle), (a.left + a.right) / 2, a.bottom + 40.5, TICK_SIZE, 'center');
      ctx.translate(a.left - 63.7, (a.top + a.bottom) / 2);
      ctx.rotate(-Math.PI / 2);
      drawRich(ctx, parseRich(yTitle), 0, 0.36 * TICK_SIZE, TICK_SIZE, 'center');
      ctx.restore();
    },
  };
}

function makeCbPlugin(i: number) {
  return {
    id: 'cb' + i,
    afterDraw(chart: any) {
      const { ctx, chartArea: a } = chart;
      const [cmin, cmax] = cbRanges[i];
      const y = chart.scales.y;
      const yb = y.getPixelForValue(cmin);
      const yt = y.getPixelForValue(cmax);
      ctx.save();
      const grad = ctx.createLinearGradient(0, yb, 0, yt);
      for (let k = 0; k <= 40; k++) grad.addColorStop(k / 40, jet(k / 40));
      ctx.fillStyle = grad;
      ctx.fillRect(a.left, yt, a.right - a.left, yb - yt);
      ctx.strokeStyle = '#000';
      ctx.lineWidth = 1;
      ctx.strokeRect(a.left, yt, a.right - a.left, yb - yt);
      ctx.translate(a.right + 33.5, (a.top + a.bottom) / 2);
      ctx.rotate(Math.PI / 2);
      drawRich(ctx, parseRich(cbLabel), 0, 0.27 * TICK_SIZE, TICK_SIZE, 'center');
      ctx.restore();
    },
  };
}

const fmt = (v: number) => (Math.round(v * 10) / 10).toFixed(1).replace('-', '\u2212');
const noPad = (ax: any) => { ax.paddingLeft = 0; ax.paddingRight = 0; ax.paddingTop = 0; ax.paddingBottom = 0; };

function Panel({ i }: { i: number }) {
  const mainRef = useRef<HTMLCanvasElement>(null);
  const cbRef = useRef<HTMLCanvasElement>(null);
  const row = rows[i < 3 ? 0 : 1];
  const L = panelLeft[i];
  const mainW = 80 + PLOT_W + RIGHT_PAD;
  const H = row.padTop + row.plotH + X_AXIS_H;
  const cbLeft = L + PLOT_W + 17;
  const cbW = 74;

  useEffect(() => {
    const [cmin, cmax] = cbRanges[i];
    const pts = scatterSets[i];
    const contour = (d: number[][], color: string) => ({
      data: d.map(([x, y]) => ({ x, y })),
      showLine: true,
      borderColor: color,
      borderWidth: 1.8,
      pointRadius: 0,
      tension: 0.35,
      fill: false,
      order: 1,
    });
    const main = new Chart(mainRef.current as HTMLCanvasElement, {
      type: 'scatter',
      data: {
        datasets: [
          contour(lsOuterSets[i], BLACK),
          contour(lsInnerSets[i], BLACK),
          contour(lOuterSets[i], PURPLE),
          contour(lInnerSets[i], PURPLE),
          {
            data: pts.map(([x, y]) => ({ x, y })),
            showLine: false,
            pointStyle: 'rect',
            pointRadius: 2.6,
            pointBorderWidth: 0,
            pointBackgroundColor: pts.map((p) => jet((p[2] - cmin) / (cmax - cmin))),
            order: 2,
          } as any,
        ],
      },
      options: {
        animation: false,
        responsive: false,
        devicePixelRatio: 1,
        events: [],
        layout: { padding: { left: 20, top: row.padTop, right: RIGHT_PAD, bottom: 0 } },
        plugins: { legend: { display: false }, tooltip: { enabled: false } },
        scales: {
          x: {
            type: 'linear',
            min: xMin,
            max: xMax,
            afterBuildTicks: (ax: any) => { ax.ticks = xTicks.map((v) => ({ value: v })); },
            afterFit: (ax: any) => { ax.height = X_AXIS_H; noPad(ax); },
            ticks: { font: { family: FONT, size: TICK_SIZE }, color: '#000', padding: 1.5, maxRotation: 0, autoSkip: false, callback: (v: any) => String(v) },
            grid: { drawOnChartArea: false, drawTicks: true, tickLength: 4.3, color: '#000', lineWidth: 1 },
            border: { display: false },
          },
          y: {
            type: 'linear',
            min: yMin,
            max: yMax,
            afterBuildTicks: (ax: any) => { ax.ticks = yTicks.map((v) => ({ value: v })); },
            afterFit: (ax: any) => { ax.width = 60; noPad(ax); },
            ticks: { font: { family: FONT, size: TICK_SIZE }, color: '#000', padding: 3.7, autoSkip: false, callback: (v: any) => fmt(v) },
            grid: { drawOnChartArea: false, drawTicks: true, tickLength: 4.3, color: '#000', lineWidth: 1 },
            border: { display: false },
          },
        },
      } as any,
      plugins: [bandsPlugin, makeDecor(i)],
    });
    const cb = new Chart(cbRef.current as HTMLCanvasElement, {
      type: 'scatter',
      data: { datasets: [] },
      options: {
        animation: false,
        responsive: false,
        devicePixelRatio: 1,
        events: [],
        layout: { padding: { left: 0.5, top: row.padTop, right: 0, bottom: X_AXIS_H } },
        plugins: { legend: { display: false }, tooltip: { enabled: false } },
        scales: {
          x: { type: 'linear', display: false, min: 0, max: 1 },
          y: {
            type: 'linear',
            position: 'right',
            min: cmin,
            max: cmax,
            afterBuildTicks: (ax: any) => { ax.ticks = cbTicks[i].map((v) => ({ value: v })); },
            afterFit: (ax: any) => { ax.width = cbW - 14.5; noPad(ax); },
            ticks: { font: { family: FONT, size: SMALL_SIZE }, color: '#000', padding: 2.5, autoSkip: false, callback: (v: any) => fmt(v) },
            grid: { drawOnChartArea: false, drawTicks: true, tickLength: 4.3, color: '#000', lineWidth: 1 },
            border: { display: false },
          },
        },
      } as any,
      plugins: [makeCbPlugin(i)],
    });
    return () => { main.destroy(); cb.destroy(); };
  }, []);

  return (
    <>
      <canvas
        ref={mainRef}
        width={mainW}
        height={H}
        style={{ position: 'absolute', left: L - 80, top: row.top, width: mainW, height: H }}
      />
      <canvas
        ref={cbRef}
        width={cbW}
        height={H}
        style={{ position: 'absolute', left: cbLeft, top: row.top, width: cbW, height: H }}
      />
    </>
  );
}

export default function App() {
  return (
    <div style={{ position: 'absolute', left: 0, top: 0, width: 1353, height: 660, background: '#fff', overflow: 'hidden' }}>
      {[0, 1, 2, 3, 4, 5].map((i) => (
        <Panel key={i} i={i} />
      ))}
    </div>
  );
}
